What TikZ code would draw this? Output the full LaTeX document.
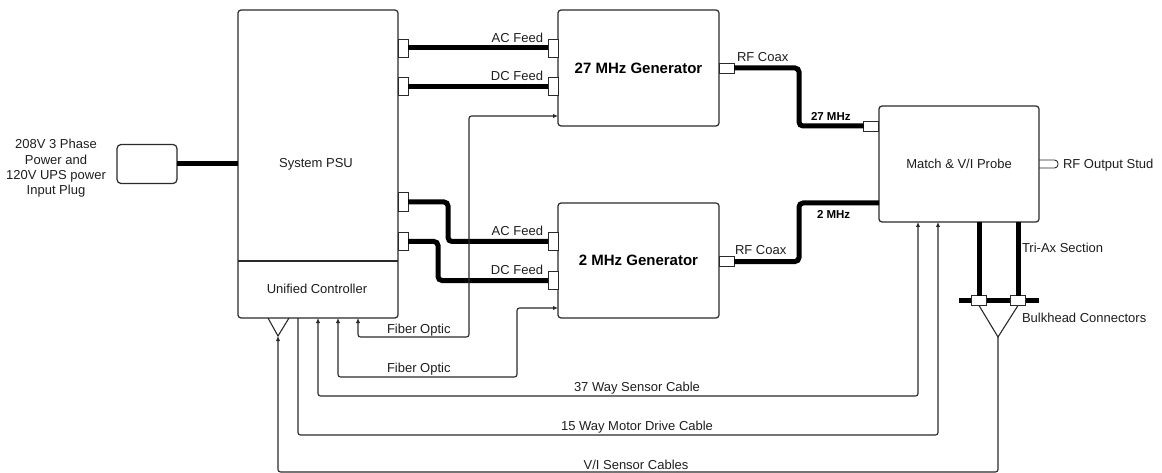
\documentclass[tikz,border=0pt]{standalone}
\usepackage{fontspec}
\setmainfont{Liberation Sans}
\usetikzlibrary{arrows.meta}
\definecolor{linec}{HTML}{2A2A2A}
\definecolor{txtc}{HTML}{1E1E1E}
\begin{document}
\begin{tikzpicture}[x=1pt,y=-1pt,
  box/.style={draw=linec, line width=1.2pt, rounded corners=3pt, inner sep=0pt, outer sep=0pt, fill=white, text=txtc},
  conn/.style={draw=linec, line width=0.9pt, fill=white, inner sep=0pt, outer sep=0pt},
  cable/.style={line width=5pt, draw=black, rounded corners=4pt},
  wire/.style={line width=1.1pt, draw=linec, rounded corners=2.5pt},
  tip/.style={-{Latex[length=5pt,width=4.5pt]}},
  tips/.style={{Latex[length=5pt,width=4.5pt]}-{Latex[length=5pt,width=4.5pt]}},
  lbl/.style={inner sep=0pt, outer sep=0pt, text=txtc, font=\fontsize{13}{15}\selectfont, text height=9.3pt, text depth=0pt},
  blbl/.style={inner sep=0pt, outer sep=0pt, text=black, font=\bfseries\fontsize{11.5}{13}\selectfont, text height=8.3pt, text depth=0pt},
  gtitle/.style={font=\bfseries\fontsize{15}{18}\selectfont, text=black}
]
\useasboundingbox (0,0) rectangle (1162,473);

% input text and plug
\node[inner sep=0pt, align=center, text=txtc, font=\fontsize{13}{15.3}\selectfont] (intxt) at (56,168.3)
  {208V 3 Phase\\Power and\\120V UPS power\\Input Plug};
\node[box, rounded corners=4pt, minimum width=60pt, minimum height=39pt] (plug) at (147,164) {};

% PSU / controller
\node[box, minimum width=160pt, minimum height=308pt] (unit) at (318,164) {};
\node[lbl] (psu) at (316,163) {System PSU};
\node[inner sep=0pt, outer sep=0pt, minimum width=160pt, minimum height=57pt] (ctrl) at (318,289.5) {};
\node[lbl] (ctrltxt) at (317,289) {Unified Controller};
\draw[wire, rounded corners=0pt] (ctrl.north west) -- (ctrl.north east);

\draw[cable, rounded corners=0pt] (plug.east) -- (unit.west |- plug.east);

% stud (drawn first so the match box covers its left end)
\node[conn, rounded corners=3.5pt, minimum width=23pt, minimum height=8pt] (stud) at (1046.5,164) {};

% generators and match
\node[box, gtitle, minimum width=161pt, minimum height=116pt] (g27) at (638.5,68) {27 MHz Generator};
\node[box, gtitle, minimum width=161pt, minimum height=115pt] (g2) at (638.5,260.5) {2 MHz Generator};
\node[box, font=\fontsize{13}{15}\selectfont, minimum width=160pt, minimum height=116pt] (match) at (959,164) {Match \& V/I Probe};

% connectors
\node[conn, minimum width=10pt, minimum height=18pt] (pc1) at (403,48) {};
\node[conn, minimum width=10pt, minimum height=18pt] (pc2) at (403,86.5) {};
\node[conn, minimum width=10pt, minimum height=19pt] (pc3) at (403,202) {};
\node[conn, minimum width=10pt, minimum height=18pt] (pc4) at (403,241.5) {};
\node[conn, minimum width=10pt, minimum height=18pt] (ac27) at (553,48) {};
\node[conn, minimum width=10pt, minimum height=18pt] (dc27) at (553,86.5) {};
\node[conn, minimum width=10pt, minimum height=18pt] (ac2) at (553,241.5) {};
\node[conn, minimum width=10pt, minimum height=18pt] (dc2) at (553,280.5) {};
\node[conn, minimum width=15pt, minimum height=10pt] (rf27) at (726.5,68) {};
\node[conn, minimum width=15pt, minimum height=10pt] (rf2) at (726.5,261.5) {};
\node[conn, minimum width=15pt, minimum height=10pt] (m27) at (871,126) {};

% feeds
\draw[cable, rounded corners=0pt] (pc1.east) -- (ac27.west);
\draw[cable, rounded corners=0pt] (pc2.east) -- (dc27.west);
\draw[cable] (pc3.east) -- (448,202) -- (448,241.5) -- (ac2.west);
\draw[cable] (pc4.east) -- (438,241.5) -- (438,280.5) -- (dc2.west);
\node[lbl, anchor=east] (lac27) at (543,38) {AC Feed};
\node[lbl, anchor=east] (ldc27) at (543,75.5) {DC Feed};
\node[lbl, anchor=east] (lac2) at (543,231) {AC Feed};
\node[lbl, anchor=east] (ldc2) at (543,270) {DC Feed};

% RF coax
\coordinate (j27) at (799,68);
\coordinate (j2) at (799,203);
\draw[cable] (rf27.east) -- (j27) -- (j27 |- m27.west) -- (m27.west);
\draw[cable] (rf2.east) -| (j2) -- (j2 -| match.west);
\node[lbl, anchor=west] (lrf27) at (737,57) {RF Coax};
\node[lbl, anchor=west] (lrf2) at (735,250) {RF Coax};
\node[blbl, anchor=west] (l27) at (811,116) {27 MHz};
\node[blbl, anchor=west] (l2) at (817,214) {2 MHz};
\node[lbl, anchor=west] (lstud) at (1063,164) {RF Output Stud};

% tri-ax and bulkhead
\coordinate (bkL) at (959,300.5);
\coordinate (bkR) at (1039,300.5);
\draw[cable, rounded corners=0pt] (bkL) -- (bkR);
\node[conn, minimum width=15pt, minimum height=10pt] (bk1) at (979,300.5) {};
\node[conn, minimum width=15pt, minimum height=10pt] (bk2) at (1018,300.5) {};
\draw[cable, rounded corners=0pt] (bk1.north |- match.south) -- (bk1.north);
\draw[cable, rounded corners=0pt] (bk2.north |- match.south) -- (bk2.north);
\coordinate (bkapex) at (998,337);
\draw[wire, rounded corners=0pt] (bk1.south) -- (bkapex) -- (bk2.south);
\node[lbl, anchor=west] (ltri) at (1022,248) {Tri-Ax Section};
\node[lbl, anchor=west] (lbk) at (1022,318) {Bulkhead Connectors};

% controller triangle
\coordinate (ct1) at (268,318);
\coordinate (ct2) at (289,318);
\coordinate (ctapex) at (278,336);
\draw[wire, rounded corners=0pt] (ct1) -- (ctapex) -- (ct2);

% fiber optics and cables
\coordinate (f1) at (358,337);
\coordinate (f2) at (338,377);
\coordinate (s37) at (318,396);
\coordinate (s15) at (298,435);
\draw[wire, tips] (ctrl.south -| f1) -- (f1) -- (469,337) -- (469,116) -- (g27.west |- 0,116);
\draw[wire, tips] (ctrl.south -| f2) -- (f2) -- (517,377) -- (517,308) -- (g2.west |- 0,308);
\draw[wire, tips] (ctrl.south -| s37) -- (s37) -- (918,396) -- (match.south -| 918,0);
\draw[wire, tip] (ctrl.south -| s15) -- (s15) -- (938,435) -- (match.south -| 938,0);
\draw[wire, tip] (bkapex) -- (998,472) -- (278,472) -- (ctapex);

\node[lbl, anchor=west] (lf1) at (387,329) {Fiber Optic};
\node[lbl, anchor=west] (lf2) at (387,368) {Fiber Optic};
\node[lbl] (l37) at (637,387) {37 Way Sensor Cable};
\node[lbl] (l15) at (637,426) {15 Way Motor Drive Cable};
\node[lbl] (lvi) at (636,465) {V/I Sensor Cables};
\end{tikzpicture}
\end{document}
